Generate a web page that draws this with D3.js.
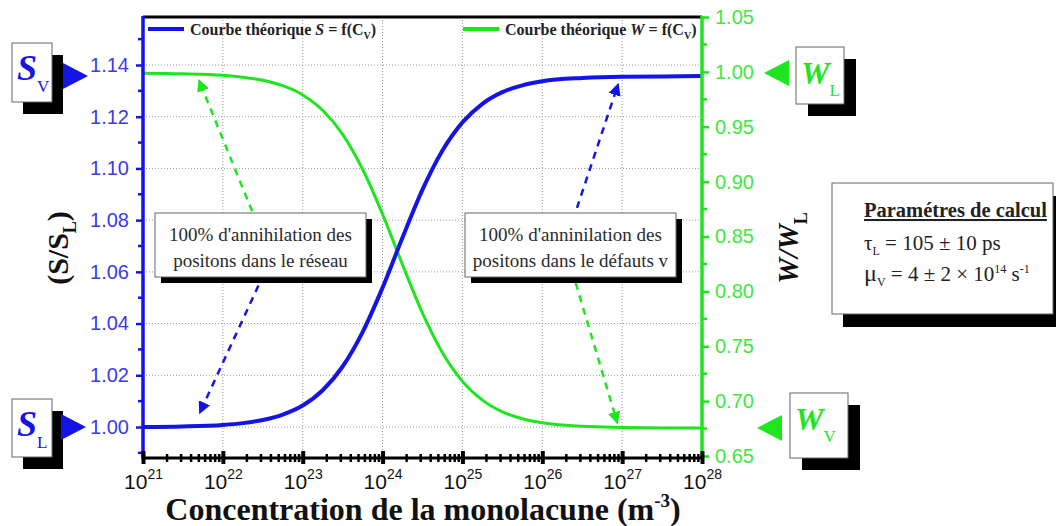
<!DOCTYPE html>
<html><head><meta charset="utf-8">
<script src="https://cdn.jsdelivr.net/npm/d3@7"></script>
<style>body{margin:0;background:#fff;overflow:hidden}</style>
</head><body>
<svg id="chart" width="1056" height="526"></svg>
<script>
// ---- data ----
const logConcentration = [21.0, 21.5, 22.0, 22.25, 22.5, 22.75, 23.0, 23.25, 23.5, 23.75, 24.0, 24.25, 24.5, 24.75, 25.0, 25.25, 25.5, 25.75, 26.0, 26.5, 27.0, 27.5, 28.0];
const sValues = [1.0000, 1.0002, 1.0008, 1.0015, 1.0027, 1.0048, 1.0083, 1.0142, 1.0234, 1.0367, 1.0539, 1.0733, 1.0918, 1.1069, 1.1178, 1.1250, 1.1295, 1.1321, 1.1337, 1.1350, 1.1355, 1.1356, 1.1357];
const wValues = [0.9988, 0.9983, 0.9969, 0.9952, 0.9924, 0.9874, 0.9790, 0.9650, 0.9431, 0.9113, 0.8703, 0.8242, 0.7802, 0.7441, 0.7180, 0.7009, 0.6903, 0.6840, 0.6803, 0.6770, 0.6760, 0.6756, 0.6755];
const sTicks = [1.00, 1.02, 1.04, 1.06, 1.08, 1.10, 1.12, 1.14];
const sMinorTicks = [0.99, 1.01, 1.03, 1.05, 1.07, 1.09, 1.11, 1.13, 1.15];
const wTicks = [0.65, 0.70, 0.75, 0.80, 0.85, 0.90, 0.95, 1.00, 1.05];
const wMinorTicks = [0.675, 0.725, 0.775, 0.825, 0.875, 0.925, 0.975, 1.025];
const xTickExponents = [21, 22, 23, 24, 25, 26, 27, 28];
// annotation arrows in data coordinates: [logC tail, value tail, logC tip, value tip]
const arrowsS = [[22.65, 1.0684, 21.71, 1.0054], [26.28, 1.0704, 26.95, 1.1326]];
const arrowsW = [[22.49, 0.851, 21.70, 0.9925], [26.28, 0.8418, 26.94, 0.680]];
const noteLeft = ["100% d'annihilation des", "positons dans le réseau"];
const noteRight = ["100% d'anninilation des", "positons dans le défauts v"];

// ---- layout ----
const SERIF = "'Liberation Serif','Times New Roman',serif";
const SANS = "'Liberation Sans',Arial,sans-serif";
const BLUE = "#1414e6", BLUE_T = "#3a3ae8";
const GREEN = "#1ee61e", GREEN_T = "#3ee83e";
const L = 143, R = 702, T = 17, B = 458;

const svg = d3.select("#chart");
const x = d3.scaleLog().domain([1e21, 1e28]).range([L, R]);
const yS = d3.scaleLinear().domain([1.00, 1.14]).range([427, 65]);
const yW = d3.scaleLinear().domain([0.65, 1.05]).range([456, 17]);

// grid
const grid = svg.append("g");
grid.selectAll("line.v").data(xTickExponents.slice(1, -1)).join("line")
  .attr("x1", d => x(Math.pow(10, d))).attr("x2", d => x(Math.pow(10, d)))
  .attr("y1", T).attr("y2", B)
  .attr("stroke", "#999").attr("stroke-width", 1).attr("stroke-dasharray", "1,2");
grid.selectAll("line.h").data(sTicks).join("line")
  .attr("x1", L).attr("x2", R).attr("y1", d => yS(d)).attr("y2", d => yS(d))
  .attr("stroke", "#999").attr("stroke-width", 1).attr("stroke-dasharray", "1,2");

// arrows
const defs = svg.append("defs");
function marker(id, color) {
  defs.append("marker").attr("id", id).attr("viewBox", "0 0 10 10")
    .attr("refX", 9).attr("refY", 5).attr("markerWidth", 5).attr("markerHeight", 5)
    .attr("orient", "auto").attr("markerUnits", "strokeWidth")
    .append("path").attr("d", "M0,0 L10,5 L0,10 z").attr("fill", color);
}
marker("ab", BLUE); marker("ag", GREEN);
svg.append("g").selectAll("line").data(arrowsS).join("line")
  .attr("x1", d => x(Math.pow(10, d[0]))).attr("y1", d => yS(d[1]))
  .attr("x2", d => x(Math.pow(10, d[2]))).attr("y2", d => yS(d[3]))
  .attr("stroke", BLUE).attr("stroke-width", 2.5).attr("stroke-dasharray", "7,6")
  .attr("marker-end", "url(#ab)");
svg.append("g").selectAll("line").data(arrowsW).join("line")
  .attr("x1", d => x(Math.pow(10, d[0]))).attr("y1", d => yW(d[1]))
  .attr("x2", d => x(Math.pow(10, d[2]))).attr("y2", d => yW(d[3]))
  .attr("stroke", GREEN).attr("stroke-width", 2.5).attr("stroke-dasharray", "7,6")
  .attr("marker-end", "url(#ag)");

// curves
const pts = logConcentration.map((e, i) => ({c: Math.pow(10, e), s: sValues[i], w: wValues[i]}));
svg.append("path").datum(pts)
  .attr("d", d3.line().x(d => x(d.c)).y(d => yW(d.w)).curve(d3.curveMonotoneX))
  .attr("fill", "none").attr("stroke", GREEN).attr("stroke-width", 3);
svg.append("path").datum(pts)
  .attr("d", d3.line().x(d => x(d.c)).y(d => yS(d.s)).curve(d3.curveMonotoneX))
  .attr("fill", "none").attr("stroke", BLUE).attr("stroke-width", 4);

// boxes with shadow
function box(x0, y0, w, h, dx, dy) {
  svg.append("rect").attr("x", x0 + dx).attr("y", y0 + dy).attr("width", w).attr("height", h).attr("fill", "#000");
  svg.append("rect").attr("x", x0).attr("y", y0).attr("width", w).attr("height", h)
    .attr("fill", "#fff").attr("stroke", "#666").attr("stroke-width", 1);
}
function note(x0, lines) {
  box(x0, 213, 211, 64, 6, 6);
  lines.forEach((t, i) => svg.append("text").attr("x", x0 + 105.5).attr("y", 241 + i * 26)
    .attr("text-anchor", "middle").attr("font-family", SERIF).attr("font-size", 19)
    .attr("fill", "#2a2a2a").text(t));
}
note(155, noteLeft);
note(465, noteRight);

// frame top
svg.append("line").attr("x1", L).attr("x2", R).attr("y1", T).attr("y2", T).attr("stroke", "#000").attr("stroke-width", 3);

// left axis
const gl = svg.append("g").attr("transform", `translate(${L},0)`);
gl.call(d3.axisLeft(yS).tickValues(sTicks).tickSize(7).tickPadding(7).tickFormat(d3.format(".2f")));
gl.select(".domain").remove();
gl.selectAll(".tick line").attr("stroke", BLUE).attr("stroke-width", 2.5);
gl.selectAll(".tick text").attr("fill", BLUE_T).attr("font-family", SANS).attr("font-size", 20);
gl.selectAll("line.minor").data(sMinorTicks).join("line").attr("class", "minor")
  .attr("x1", -5).attr("x2", 0).attr("y1", d => yS(d)).attr("y2", d => yS(d))
  .attr("stroke", BLUE).attr("stroke-width", 2.5);
gl.append("line").attr("y1", T - 1).attr("y2", B + 1).attr("stroke", BLUE).attr("stroke-width", 3.5);

// right axis
const gr = svg.append("g").attr("transform", `translate(${R},0)`);
gr.call(d3.axisRight(yW).tickValues(wTicks).tickSize(7).tickPadding(6).tickFormat(d3.format(".2f")));
gr.select(".domain").remove();
gr.selectAll(".tick line").attr("stroke", GREEN).attr("stroke-width", 2.5);
gr.selectAll(".tick text").attr("fill", GREEN_T).attr("font-family", SANS).attr("font-size", 20);
gr.selectAll("line.minor").data(wMinorTicks).join("line").attr("class", "minor")
  .attr("x1", 0).attr("x2", 5).attr("y1", d => yW(d)).attr("y2", d => yW(d))
  .attr("stroke", GREEN).attr("stroke-width", 2.5);
gr.append("line").attr("y1", T - 1).attr("y2", B + 1).attr("stroke", GREEN).attr("stroke-width", 3.5);

// bottom axis
const gb = svg.append("g").attr("transform", `translate(0,${B})`);
const minorX = [];
xTickExponents.slice(0, -1).forEach(e => { for (let k = 2; k <= 9; k++) minorX.push(k * Math.pow(10, e)); });
gb.selectAll("line.minor").data(minorX).join("line").attr("class", "minor")
  .attr("x1", d => x(d)).attr("x2", d => x(d)).attr("y1", -4).attr("y2", 4)
  .attr("stroke", "#000").attr("stroke-width", 2.5);
gb.call(d3.axisBottom(x).tickValues(xTickExponents.map(e => Math.pow(10, e))).tickSize(0).tickFormat(""));
gb.select(".domain").remove();
gb.append("line").attr("x1", L).attr("x2", R).attr("stroke", "#000").attr("stroke-width", 3);
gb.selectAll(".tick line").attr("y1", -7).attr("y2", 6).attr("stroke", "#000").attr("stroke-width", 4);
gb.selectAll(".tick text").each(function(d) {
  const t = d3.select(this);
  t.text(null).attr("y", 31).attr("dy", null).attr("fill", "#111").attr("font-family", SANS).attr("font-size", 21).attr("text-anchor", "middle");
  t.append("tspan").text("10");
  t.append("tspan").attr("dy", -10).attr("font-size", 14).text(Math.round(Math.log10(d)));
});

// axis titles
const xt = svg.append("text").attr("x", 423).attr("y", 520).attr("text-anchor", "middle")
  .attr("font-family", SERIF).attr("font-weight", "bold").attr("font-size", 32).attr("fill", "#111");
xt.append("tspan").text("Concentration de la monolacune (m");
xt.append("tspan").attr("dy", -13).attr("font-size", 19).text("-3");
xt.append("tspan").attr("dy", 13).text(")");

const yl = svg.append("text").attr("transform", "translate(68,248) rotate(-90)").attr("text-anchor", "middle")
  .attr("font-family", SERIF).attr("font-weight", "bold").attr("font-size", 30).attr("fill", "#111");
yl.append("tspan").text("(S/S");
yl.append("tspan").attr("dy", 8).attr("font-size", 18).text("L");
yl.append("tspan").attr("dy", -8).text(")");

const yr = svg.append("text").attr("transform", "translate(798,248) rotate(-90)").attr("text-anchor", "middle")
  .attr("font-family", SERIF).attr("font-weight", "bold").attr("font-style", "italic").attr("font-size", 29).attr("fill", "#111");
yr.append("tspan").text("W/W");
yr.append("tspan").attr("dy", 9).attr("font-size", 18).attr("font-style", "normal").text("L");

// legend
function legend(x0, color, sym) {
  svg.append("line").attr("x1", x0).attr("x2", x0 + 36).attr("y1", 29).attr("y2", 29)
    .attr("stroke", color).attr("stroke-width", 4);
  const t = svg.append("text").attr("x", x0 + 42).attr("y", 35).attr("font-family", SERIF)
    .attr("font-weight", "bold").attr("font-size", 16).attr("fill", "#222");
  t.append("tspan").text("Courbe théorique ");
  t.append("tspan").attr("font-style", "italic").text(sym);
  t.append("tspan").text(" = f(C");
  t.append("tspan").attr("dy", 4).attr("font-size", 10).text("V");
  t.append("tspan").attr("dy", -4).text(")");
}
legend(148, BLUE, "S");
legend(463, GREEN, "W");

// S / W marker boxes
function tag(x0, y0, w, h, dx, dy, sym, sub, color, fs) {
  box(x0, y0, w, h, dx, dy);
  const t = svg.append("text").attr("x", x0 + 5).attr("y", y0 + 37).attr("font-family", SERIF)
    .attr("fill", color);
  t.append("tspan").attr("font-style", "italic").attr("font-weight", "bold").attr("font-size", fs).text(sym);
  t.append("tspan").attr("dy", 12).attr("font-size", 17).text(sub);
}
function tri(tipX, tipY, dir, color) {
  const b = tipX - dir * 25;
  svg.append("path").attr("d", `M${tipX},${tipY} L${b},${tipY - 13} L${b},${tipY + 13} Z`).attr("fill", color);
}
tag(12, 43, 40, 59, 11, 12, "S", "V", BLUE, 36);
tri(88, yS(1.1357), 1, BLUE);
tag(12, 399, 40, 58, 11, 12, "S", "L", BLUE, 36);
tri(86, yS(1.00), 1, BLUE);
tag(796, 47, 48, 57, 12, 12, "W", "L", GREEN, 32);
tri(764, yW(0.9989), -1, GREEN);
tag(790, 393, 58, 65, 12, 12, "W", "V", GREEN, 32);
tri(757, yW(0.6756), -1, GREEN);

// parameter box
box(832, 183, 221, 131, 11, 13);
svg.append("text").attr("x", 864).attr("y", 217).attr("font-family", SERIF).attr("font-weight", "bold")
  .attr("font-size", 20.5).attr("fill", "#222").attr("text-decoration", "underline").text("Paramétres de calcul");
const p1 = svg.append("text").attr("x", 864).attr("y", 250).attr("font-family", SERIF).attr("font-size", 21).attr("fill", "#222");
p1.append("tspan").text("τ");
p1.append("tspan").attr("dy", 5).attr("font-size", 12).text("L");
p1.append("tspan").attr("dy", -5).text(" = 105 ± 10 ps");
const p2 = svg.append("text").attr("x", 864).attr("y", 281).attr("font-family", SERIF).attr("font-size", 21).attr("fill", "#222");
p2.append("tspan").attr("font-size", 24).text("μ");
p2.append("tspan").attr("dy", 5).attr("font-size", 12).text("V");
p2.append("tspan").attr("dy", -5).text(" = 4 ± 2 × 10");
p2.append("tspan").attr("dy", -8).attr("font-size", 12).text("14");
p2.append("tspan").attr("dy", 8).text(" s");
p2.append("tspan").attr("dy", -8).attr("font-size", 12).text("-1");
</script>
</body></html>
